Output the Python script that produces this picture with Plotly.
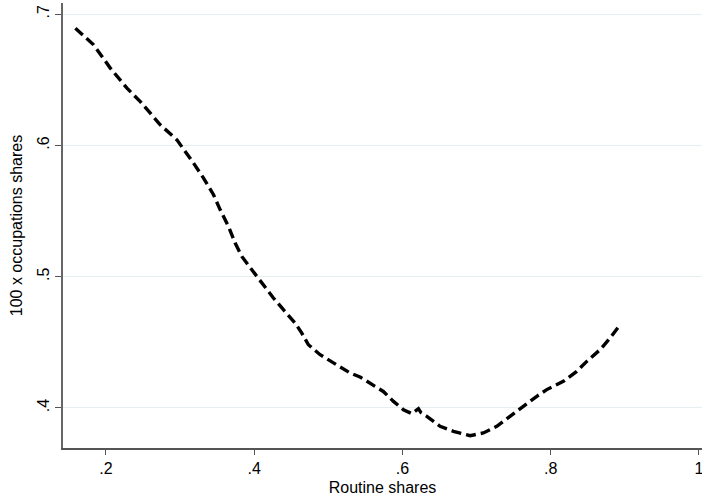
import plotly.graph_objects as go

routine_share = [0.1587, 0.1833, 0.2058, 0.2283, 0.2463, 0.2732, 0.2957, 0.3025,
                 0.3181, 0.3316, 0.3451, 0.3541, 0.3653, 0.3743, 0.3833, 0.3968,
                 0.4103, 0.4259, 0.4394, 0.4552, 0.4642, 0.4731, 0.4889, 0.5068,
                 0.5203, 0.5293, 0.5428, 0.5562, 0.5742, 0.5879, 0.6013, 0.6127,
                 0.6216, 0.6250, 0.6329, 0.6508, 0.6688, 0.6913, 0.7092, 0.7273,
                 0.7452, 0.7632, 0.7813, 0.7947, 0.8171, 0.8352, 0.8487, 0.8667,
                 0.8802, 0.8937]
occ_share = [0.6894, 0.6767, 0.6590, 0.6437, 0.6335, 0.6158, 0.6043, 0.5992,
             0.5866, 0.5752, 0.5625, 0.5510, 0.5383, 0.5257, 0.5155, 0.5053,
             0.4952, 0.4838, 0.4749, 0.4647, 0.4571, 0.4482, 0.4406, 0.4343,
             0.4292, 0.4267, 0.4236, 0.4190, 0.4126, 0.4050, 0.3987, 0.3957,
             0.3995, 0.3965, 0.3936, 0.3860, 0.3822, 0.3789, 0.3810, 0.3860,
             0.3936, 0.4018, 0.4089, 0.4140, 0.4203, 0.4279, 0.4355, 0.4444,
             0.4533, 0.4634]

x_tickvals = [0.2, 0.4, 0.6, 0.8, 1.0]
x_ticktext = [".2", ".4", ".6", ".8", "1"]
y_tickvals = [0.4, 0.5, 0.6, 0.7]
y_ticktext = [".4", ".5", ".6", ".7"]

font_family = "Liberation Sans, Arial, Helvetica, sans-serif"

fig = go.Figure()
fig.add_trace(go.Scatter(
    x=routine_share, y=occ_share, mode="lines",
    line=dict(color="black", width=3.4, dash="10px,5px"),
    showlegend=False, hoverinfo="skip",
))

fig.update_layout(
    width=702, height=503,
    margin=dict(l=63, r=0, t=3, b=55, autoexpand=False),
    paper_bgcolor="white", plot_bgcolor="white",
    font=dict(family=font_family, size=16, color="black"),
)
fig.update_xaxes(
    range=[0.142, 1.0042], tickvals=x_tickvals, ticktext=x_ticktext,
    automargin=False, ticklabeloverflow="allow",
    showgrid=False, zeroline=False,
    showline=True, linecolor="#555555", linewidth=1.5,
    ticks="outside", ticklen=5, tickcolor="#555555", tickwidth=1.2,
    tickfont=dict(size=16),
    title=dict(text="Routine shares", font=dict(size=16), standoff=6),
)
fig.update_yaxes(
    range=[0.3695, 0.7086], tickvals=y_tickvals, ticktext=y_ticktext,
    tickangle=-90, automargin=False, ticklabelstandoff=0,
    showgrid=True, gridcolor="#e6eef1", gridwidth=1.2, zeroline=False,
    showline=True, linecolor="#666666", linewidth=1.5,
    ticks="outside", ticklen=6, tickcolor="#555555", tickwidth=1.2,
    tickfont=dict(size=16),
    title=dict(text="100 x occupations shares", font=dict(size=16), standoff=8),
)

fig.write_html(
    "out.html",
    config={"displayModeBar": False},
    post_script="document.body.style.margin='0';document.body.style.padding='0';",
)
